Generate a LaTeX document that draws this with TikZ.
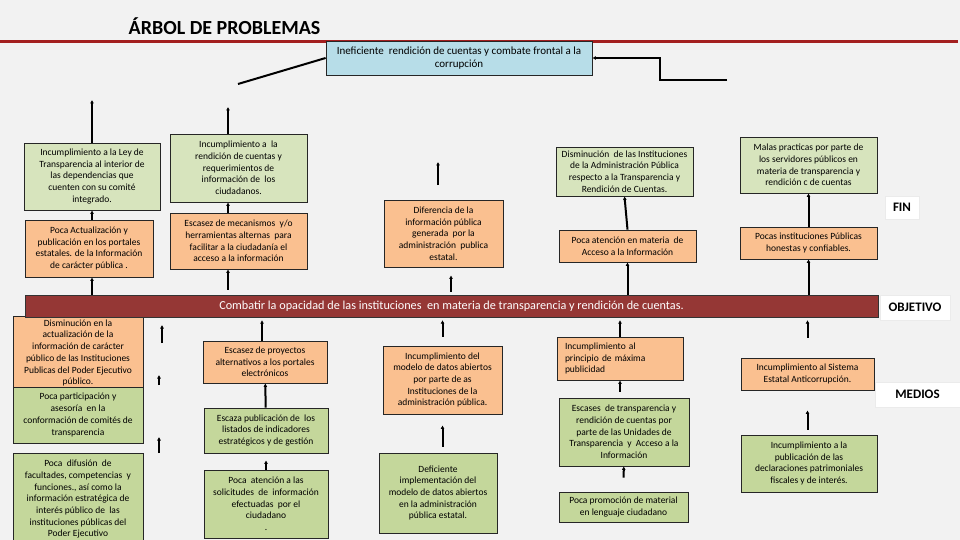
\documentclass[tikz,border=0pt]{standalone}
\usepackage{fontspec}
\setmainfont{Carlito}
\usepackage{tikz}
\usetikzlibrary{arrows.meta,positioning}
\definecolor{fondo}{HTML}{F2F2F2}
\definecolor{rojolinea}{HTML}{A31F1F}
\definecolor{vinotinto}{HTML}{953735}
\definecolor{celeste}{HTML}{B7DDE8}
\definecolor{naranja}{HTML}{FAC090}
\definecolor{verdeclaro}{HTML}{D7E4BD}
\definecolor{verde}{HTML}{C4D79B}
\tikzset{
  caja/.style={
    draw=black!85,
    line width=0.8pt,
    align=center,
    inner sep=2pt,
    font=\fontsize{9.5}{11.7}\selectfont
  },
  causa/.style={caja, fill=naranja},
  efecto/.style={caja, fill=verdeclaro},
  medio/.style={caja, fill=verde},
  etiqueta/.style={
    draw=black!8,
    fill=white,
    inner sep=0pt,
    font=\bfseries\fontsize{13}{15}\selectfont
  },
  flecha/.style={
    -{Latex[length=3.5pt,width=4pt]},
    line width=2pt,
    black
  }
}

\begin{document}
\begin{tikzpicture}[x=1pt,y=-1pt]
\useasboundingbox (0,0) rectangle (960,540);
\fill[fondo] (0,0) rectangle (960,540);
\clip (0,0) rectangle (960,540);

% titulo
\node[anchor=base,font=\bfseries\fontsize{20}{24}\selectfont] (titulo) at (224.5,35) {ÁRBOL DE PROBLEMAS};
\draw[rojolinea,line width=3pt] (0,42) -- (958,42);
\node[caja,fill=celeste,minimum width=266,minimum height=34,font=\fontsize{11}{13}\selectfont] (problema) at (459,58)
  {Ineficiente \ rendición de cuentas y combate frontal a la\\corrupción};

% efectos
\node[efecto,minimum width=136,minimum height=67] (ef1) at (92,176.5)
  {Incumplimiento a la Ley de\\Transparencia al interior de\\las dependencias que\\cuenten con su comité\\integrado.};
\node[causa,minimum width=128,minimum height=57] (ef2) at (89,248.5)
  {Poca Actualización y\\publicación en los portales\\estatales. de la Información\\de carácter pública .};
\node[efecto,minimum width=137,minimum height=68] (ef3) at (238.5,168)
  {Incumplimiento a \ la\\rendición de cuentas y\\requerimientos de\\información de \ los\\ciudadanos.};
\node[causa,minimum width=137,minimum height=56] (ef4) at (238.5,241)
  {Escasez de mecanismos \ y/o\\herramientas alternas \ para\\facilitar a la ciudadanía el\\acceso a la información};
\node[causa,minimum width=119,minimum height=67] (ef5) at (443.5,233.5)
  {Diferencia de la\\información pública\\generada \ por la\\administración \ publica\\estatal.};
\node[efecto,minimum width=137,minimum height=49] (ef6) at (624.5,171.5)
  {Disminución \ de las Instituciones\\de la Administración Pública\\respecto a la Transparencia y\\Rendición de Cuentas.};
\node[causa,minimum width=137,minimum height=32] (ef7) at (627.5,246)
  {Poca atención en materia \ de\\Acceso a la Información};
\node[efecto,minimum width=137,minimum height=56] (ef8) at (808.5,165)
  {Malas practicas por parte de\\los servidores públicos en\\materia de transparencia y\\rendición c de cuentas};
\node[causa,minimum width=137,minimum height=32] (ef9) at (808.5,243)
  {Pocas instituciones Públicas\\honestas y confiables.};
\node[etiqueta,minimum width=34,minimum height=23] (fin) at (902,207.5) {FIN};

% medios
\node[causa,minimum width=130,minimum height=74] (me1) at (78,353)
  {Disminución en la\\actualización de la\\información de carácter\\público de las Instituciones\\Publicas del Poder Ejecutivo\\público.};
\node[medio,minimum width=130,minimum height=56] (me2) at (78,415)
  {Poca participación y\\asesoría \ en la\\conformación de comités de\\transparencia};
\node[medio,anchor=north,minimum width=130,minimum height=92] (me3) at (78,453)
  {Poca \ difusión \ de\\facultades, competencias \ y\\funciones., así como la\\información estratégica de\\interés público de \ las\\instituciones públicas del\\Poder Ejecutivo};
\node[causa,minimum width=124,minimum height=42] (me4) at (265,362)
  {Escasez de proyectos\\alternativos a los portales\\electrónicos};
\node[medio,minimum width=124,minimum height=45] (me5) at (266,430.5)
  {Escaza publicación de \ los\\listados de indicadores\\estratégicos y de gestión};
\node[medio,minimum width=124,minimum height=68] (me6) at (266,504)
  {Poca \ atención a las\\solicitudes \ de \ información\\efectuadas \ por el\\ciudadano\\.};
\node[causa,minimum width=119,minimum height=68] (me7) at (442.5,380)
  {Incumplimiento del\\modelo de datos abiertos\\por parte de as\\Instituciones de la\\administración pública.};
\node[medio,minimum width=118,minimum height=80] (me8) at (438,493)
  {Deficiente\\implementación del\\modelo de datos abiertos\\en la administración\\pública estatal.};
\node[causa,minimum width=126,minimum height=43,text width=110,align=left] (me9) at (620,358.5)
  {Incumplimiento al\\principio de máxima\\publicidad};
\node[medio,minimum width=130,minimum height=68] (me10) at (624,432)
  {Escases \ de transparencia y\\rendición de cuentas por\\parte de las Unidades de\\Transparencia \ y \ Acceso a la\\Información};
\node[medio,minimum width=129,minimum height=30] (me11) at (623.5,507)
  {Poca promoción de material\\en lenguaje ciudadano};
\node[causa,minimum width=133,minimum height=32] (me12) at (807.5,374)
  {Incumplimiento al Sistema\\Estatal Anticorrupción.};
\node[medio,minimum width=136,minimum height=57] (me13) at (809,463.5)
  {Incumplimiento a la\\publicación de las\\declaraciones patrimoniales\\fiscales y de interés.};
\node[etiqueta,minimum width=85,minimum height=25] (medios) at (917.5,394.5) {MEDIOS};

% objetivo
\node[draw=black!80,fill=vinotinto,text=white,minimum width=853,minimum height=22,inner sep=0pt,
  font=\fontsize{12.2}{14}\selectfont] (obj) at (451.5,306)
  {Combatir la opacidad de las instituciones \ en materia de transparencia y rendición de cuentas.};
\node[etiqueta,minimum width=70,minimum height=25] (objetivo) at (915,307.5) {OBJETIVO};

% conectores de arriba
\coordinate (p1) at (238,84);
\coordinate (p2) at (727,80);
\coordinate (a1) at (92,100);
\coordinate (a2) at (228,107);
\coordinate (a3) at (438,162);
\draw[line width=2pt] (problema.west) -- (p1);
\draw[flecha] (p2) -- ++(-67,0) |- (problema.east);
\draw[flecha] (a1 |- ef1.north) -- (a1);
\draw[flecha] (a2 |- ef3.north) -- (a2);
\draw[flecha] (a3) ++(0,23) -- (a3);
\draw[flecha] (ef1.south |- ef2.north) -- (ef1.south);
\draw[flecha] (ef1.south |- obj.north) -- (ef1.south |- ef2.south);
\draw[flecha] (a2 |- ef4.north) -- (a2 |- ef3.south);
\draw[flecha,shorten <=5pt] (a2 |- obj.north) -- (a2 |- ef4.south);
\draw[flecha,shorten <=3pt,shorten >=8pt] ([xshift=7.5pt]ef5.south |- obj.north) -- ([xshift=7.5pt]ef5.south);
\draw[flecha] (ef7.north) -- (ef6.south);
\draw[flecha] (ef7.south |- obj.north) -- (ef7.south);
\draw[flecha] (ef9) -- (ef8);
\draw[flecha] (ef9.south |- obj.north) -- (ef9.south);

% conectores de abajo
\coordinate (b1) at (162,343);
\coordinate (b2) at (159,385);
\coordinate (b3) at (159,453);
\draw[flecha] (b1) -- ++(0,-18);
\draw[flecha] (b2) -- ++(0,-10);
\draw[flecha] (b3) -- ++(0,-16);
\draw[flecha,shorten >=3pt] ([xshift=-3pt]me4.north) -- ([xshift=-3pt]me4.north |- obj.south);
\draw[flecha] (me5) -- (me4);
\draw[flecha,shorten >=7pt] (me6) -- (me5);
\draw[flecha,shorten <=9pt,shorten >=3pt] (me7.north) -- (me7.north |- obj.south);
\draw[flecha,shorten <=6pt,shorten >=11pt] (me7.south |- me8.north) -- (me7.south);
\draw[flecha,shorten >=3pt] (me9.north) -- (me9.north |- obj.south);
\draw[flecha,shorten <=6pt] (me9.south |- me10.north) -- (me9.south);
\draw[flecha,shorten <=14pt] (me11) -- (me10);
\draw[flecha,shorten <=20pt,shorten >=3pt] (me12.north) -- (me12.north |- obj.south);
\draw[flecha,shorten <=5pt,shorten >=20pt] (me12.south |- me13.north) -- (me12.south);
\end{tikzpicture}
\end{document}
